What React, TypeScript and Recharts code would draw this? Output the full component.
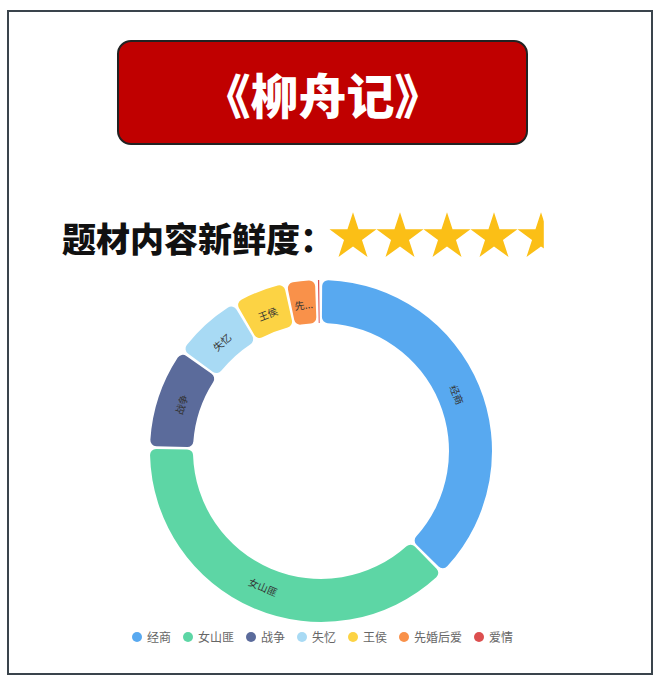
import React from 'react';
import { PieChart, Pie, Cell, Legend } from 'recharts';

const categories = ['经商', '女山匪', '战争', '失忆', '王侯', '先婚后爱', '爱情'];
const values = [38.0, 38.3, 9.5, 6.5, 4.9, 2.7, 0.12];
const colors = ['#58a9f0', '#5dd6a5', '#5b6b9b', '#a8daf4', '#fcd344', '#f9914a', '#dc4f4f'];

const titleText = '《柳舟记》';
const subtitleText = '题材内容新鲜度：';
const rating = 4.5;
const starCount = 5;

const data = categories.map((name, i) => ({ name, value: values[i] }));

const FONT = '"Noto Sans CJK SC", "Noto Sans", sans-serif';
const RAD = Math.PI / 180;

const renderLabel = (props: any) => {
  const { cx, cy, midAngle, innerRadius, outerRadius, name, startAngle, endAngle } = props;
  const r = (innerRadius + outerRadius) / 2 - 2;
  const x = cx + r * Math.cos(-midAngle * RAD);
  const y = cy + r * Math.sin(-midAngle * RAD);
  let rot = (((90 - midAngle) % 360) + 360) % 360;
  if (rot > 90 && rot < 270) rot -= 180;
  const arc = Math.abs(endAngle - startAngle) * RAD * r;
  if (arc < 12) return null;
  let text = name as string;
  const fs = 10;
  if (text.length * fs > arc - 6) {
    const n = Math.max(1, Math.floor((arc - 10) / fs));
    text = text.slice(0, n) + '...';
  }
  return (
    <text
      x={x}
      y={y}
      transform={`rotate(${rot}, ${x}, ${y})`}
      textAnchor="middle"
      dominantBaseline="central"
      fontSize={fs}
      fill="#333"
      fontFamily={FONT}
    >
      {text}
    </text>
  );
};

const starPoints = (cx: number, cy: number, R: number) => {
  const r = R * 0.382;
  const pts: string[] = [];
  for (let k = 0; k < 10; k++) {
    const rad = k % 2 === 0 ? R : r;
    const a = (-90 + k * 36) * RAD;
    pts.push(`${cx + rad * Math.cos(a)},${cy + rad * Math.sin(a)}`);
  }
  return pts.join(' ');
};

const LegendContent = () => (
  <div
    style={{
      display: 'flex',
      justifyContent: 'center',
      alignItems: 'center',
      gap: 12,
      fontFamily: FONT,
      fontSize: 12,
      color: '#666',
    }}
  >
    {categories.map((c, i) => (
      <div key={c} style={{ display: 'flex', alignItems: 'center' }}>
        <span
          style={{
            display: 'inline-block',
            width: 10,
            height: 10,
            borderRadius: 5,
            background: colors[i],
            marginRight: 5,
          }}
        />
        <span>{c}</span>
      </div>
    ))}
  </div>
);

export default function App() {
  const starStart = 353;
  const starGap = 47;
  const starR = 24.7;
  const starCy = 237;
  const clipW = starStart - starR + rating * starGap + 4;
  return (
    <div
      style={{
        position: 'absolute',
        left: 0,
        top: 0,
        width: 660,
        height: 682,
        background: '#fff',
        overflow: 'hidden',
      }}
    >
      <div
        style={{
          position: 'absolute',
          left: 7,
          top: 10,
          width: 646,
          height: 665,
          border: '2px solid #3a444c',
          boxSizing: 'border-box',
        }}
      />
      <div
        style={{
          position: 'absolute',
          left: 117,
          top: 40,
          width: 411,
          height: 105,
          background: '#c00000',
          border: '2px solid #222',
          borderRadius: 14,
          boxSizing: 'border-box',
          display: 'flex',
          alignItems: 'center',
          justifyContent: 'center',
          color: '#fff',
          fontFamily: FONT,
          fontWeight: 900,
          fontSize: 48,
          lineHeight: 1,
        }}
      >
        {titleText}
      </div>
      <div
        style={{
          position: 'absolute',
          left: 62,
          top: 221,
          fontFamily: FONT,
          fontWeight: 900,
          fontSize: 34,
          lineHeight: 1,
          color: '#111',
          whiteSpace: 'nowrap',
        }}
      >
        {subtitleText}
      </div>
      <svg style={{ position: 'absolute', left: 0, top: 0 }} width={660} height={300}>
        <defs>
          <clipPath id="starClip">
            <rect x={0} y={0} width={clipW} height={300} />
          </clipPath>
        </defs>
        <g clipPath="url(#starClip)">
          {Array.from({ length: starCount }).map((_, i) => (
            <polygon key={i} points={starPoints(starStart + i * starGap, starCy, starR)} fill="#fbbf16" />
          ))}
        </g>
      </svg>
      <div style={{ position: 'absolute', left: 0, top: 0 }}>
        <PieChart width={660} height={682} margin={{ top: 0, right: 0, bottom: 0, left: 0 }}>
          <Pie
            data={data}
            dataKey="value"
            nameKey="name"
            cx={321}
            cy={451}
            innerRadius={128}
            outerRadius={171}
            startAngle={89.6}
            endAngle={-270.4}
            paddingAngle={1}
            cornerRadius={6}
            stroke="none"
            label={renderLabel}
            labelLine={false}
            isAnimationActive={false}
          >
            {data.map((d, i) => (
              <Cell key={d.name} fill={colors[i]} />
            ))}
          </Pie>
          <Legend
            content={<LegendContent />}
            wrapperStyle={{ position: 'absolute', left: 0, top: 628, width: 645 }}
          />
        </PieChart>
      </div>
    </div>
  );
}
